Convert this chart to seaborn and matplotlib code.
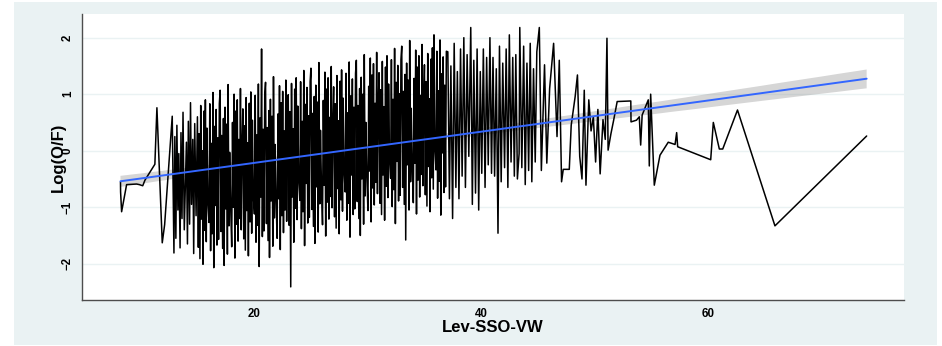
import numpy as np
import pandas as pd
import seaborn as sns
import matplotlib.pyplot as plt
from matplotlib.patches import Rectangle

# ---------------- data ----------------
x_head = [8.24, 8.25, 8.34, 8.78, 9.66, 9.9, 10.2, 10.4, 11.27, 11.45, 11.92, 12.13, 12.8, 12.95]
y_head = [-0.55, -0.73, -1.08, -0.6, -0.59, -0.6, -0.62, -0.52, -0.24, 0.76, -1.63, -1.31, 0.61, -1.81]

x_core = [
    13.03, 13.12, 13.21, 13.30, 13.38, 13.49, 13.57, 13.66, 13.75, 13.86,
    14.05, 14.14, 14.22, 14.33, 14.41, 14.50, 14.61, 14.69, 14.78, 14.90,
    15.02, 15.10, 15.16, 15.24, 15.31, 15.37, 15.45, 15.51, 15.59, 15.66, 15.72, 15.80, 15.86, 15.94,
    16.04, 16.11, 16.18, 16.25, 16.32, 16.39, 16.46, 16.53, 16.60, 16.67, 16.74, 16.81, 16.88, 16.95,
    17.02, 17.10, 17.16, 17.24, 17.31, 17.37, 17.45, 17.51, 17.59, 17.66, 17.72, 17.80, 17.86, 17.94,
    18.04, 18.11, 18.18, 18.25, 18.32, 18.39, 18.46, 18.53, 18.60, 18.67, 18.74, 18.81, 18.88, 18.95,
    19.02, 19.10, 19.16, 19.24, 19.31, 19.37, 19.45, 19.51, 19.59, 19.66, 19.72, 19.80, 19.86, 19.94,
    20.04, 20.11, 20.18, 20.25, 20.32, 20.39, 20.46, 20.53, 20.60, 20.67, 20.74, 20.81, 20.88, 20.95,
    21.02, 21.10, 21.16, 21.24, 21.31, 21.37, 21.45, 21.51, 21.59, 21.66, 21.72, 21.80, 21.86, 21.94,
    22.04, 22.11, 22.18, 22.25, 22.32, 22.39, 22.46, 22.53, 22.60, 22.67, 22.74, 22.81, 22.88, 22.95,
    23.02, 23.10, 23.16, 23.24, 23.31, 23.37, 23.45, 23.51, 23.59, 23.66, 23.72, 23.80, 23.86, 23.94,
    24.04, 24.11, 24.18, 24.25, 24.32, 24.39, 24.46, 24.53, 24.60, 24.67, 24.74, 24.81, 24.88, 24.95,
    25.02, 25.10, 25.16, 25.24, 25.31, 25.37, 25.45, 25.51, 25.59, 25.66, 25.72, 25.80, 25.86, 25.94,
    26.04, 26.11, 26.18, 26.25, 26.32, 26.39, 26.46, 26.53, 26.60, 26.67, 26.74, 26.81, 26.88, 26.95,
    27.02, 27.10, 27.16, 27.24, 27.31, 27.37, 27.45, 27.51, 27.59, 27.66, 27.72, 27.80, 27.86, 27.94,
    28.04, 28.11, 28.18, 28.25, 28.32, 28.39, 28.46, 28.53, 28.60, 28.67, 28.74, 28.81, 28.88, 28.95,
    29.02, 29.10, 29.16, 29.24, 29.31, 29.37, 29.45, 29.51, 29.59, 29.66, 29.72, 29.80, 29.86, 29.94,
    30.04, 30.11, 30.18, 30.25, 30.32, 30.39, 30.46, 30.53, 30.60, 30.67, 30.74, 30.81, 30.88, 30.95,
    31.02, 31.10, 31.16, 31.24, 31.31, 31.37, 31.45, 31.51, 31.59, 31.66, 31.72, 31.80, 31.86, 31.94,
    32.04, 32.11, 32.18, 32.25, 32.32, 32.39, 32.46, 32.53, 32.60, 32.67, 32.74, 32.81, 32.88, 32.95,
    33.02, 33.10, 33.16, 33.24, 33.31, 33.37, 33.45, 33.51, 33.59, 33.66, 33.72, 33.80, 33.86, 33.94,
    34.04, 34.11, 34.18, 34.25, 34.32, 34.39, 34.46, 34.53, 34.60, 34.67, 34.74, 34.81, 34.88, 34.95,
    35.02, 35.10, 35.16, 35.24, 35.31, 35.37, 35.45, 35.51, 35.59, 35.66, 35.72, 35.80, 35.86, 35.94,
    36.04, 36.11, 36.18, 36.25, 36.32, 36.39, 36.46, 36.53, 36.60, 36.67, 36.74, 36.81, 36.88, 36.95,
]
y_core = [
    0.25, -1.55, 0.45, -1.05, -0.05, -1.72, 0.32, -1.2, 0.68, -1.4,
    0.15, -1.65, 0.52, -1.3, 0.85, -0.95, 0.2, -1.82, 0.48, -1.15,
    0.60, -1.71, 0.30, -1.91, 0.80, -1.21, 0.00, -2.01, 0.70, -1.41, 0.90, -1.61, 0.40, -0.91,
    -1.27, 0.83, -1.77, 0.13, -1.47, 1.03, -2.07, 0.43, -0.97, 0.73, -1.67, 0.23, -1.57, 0.83,
    1.07, -1.43, 0.27, -1.73, 0.57, -2.03, 0.77, -1.03, 0.47, -1.83, 1.17, -1.33, -0.03, -0.93,
    -1.70, 0.50, -1.00, 1.00, -1.90, 0.70, -1.30, 0.90, -1.60, 0.20, -1.20, 1.10, -1.40, 0.10,
    0.74, -1.56, 0.44, -1.76, 0.94, -1.06, 0.14, -1.86, 0.84, -1.26, 1.04, -1.46, 0.54, -0.76,
    -1.12, 0.98, -1.62, 0.28, -1.32, 1.18, -2.05, 0.58, -0.82, 1.80, -1.52, 0.38, -1.42, 0.98,
    1.21, -1.29, 0.41, -1.59, 0.71, -1.89, 0.91, -0.89, 0.61, -1.69, 1.31, -1.19, 0.11, -0.79,
    -1.55, 0.65, -0.85, 1.15, -1.75, 0.85, -1.15, 1.05, -1.45, 0.35, -1.05, 1.25, -1.25, 0.25,
    0.99, -1.32, 0.69, -2.41, 1.19, -0.82, 0.39, -1.62, 1.09, -1.02, 1.29, -1.22, 0.79, -0.52,
    -0.88, 1.22, -1.38, 0.52, -1.08, 1.42, -1.68, 0.82, -0.58, 1.12, -1.28, 0.62, -1.18, 1.22,
    1.46, -1.04, 0.66, -1.34, 0.96, -1.64, 1.16, -0.64, 0.86, -1.44, 1.56, -0.94, 0.36, -0.54,
    -1.31, 0.89, -0.61, 1.39, -1.51, 1.09, -0.91, 1.29, -1.21, 0.59, -0.81, 1.49, -1.01, 0.49,
    1.13, -1.17, 0.83, -1.37, 1.33, -0.67, 0.53, -1.47, 1.23, -0.87, 1.43, -1.07, 0.93, -0.37,
    -0.73, 1.37, -1.23, 0.67, -0.93, 1.57, -1.53, 0.97, -0.43, 1.27, -1.13, 0.77, -1.03, 1.37,
    1.60, -0.90, 0.80, -1.20, 1.10, -1.50, 1.30, -0.50, 1.00, -1.30, 1.70, -0.80, 0.50, -0.40,
    -1.06, 1.14, -0.36, 1.64, -1.26, 1.34, -0.66, 1.54, -0.96, 0.84, -0.56, 1.74, -0.76, 0.74,
    1.38, -0.93, 1.08, -1.13, 1.58, -0.43, 0.78, -1.23, 1.48, -0.63, 1.68, -0.83, 1.18, -0.13,
    -0.49, 1.61, -0.99, 0.91, -0.69, 1.81, -1.29, 1.21, -0.19, 1.51, -0.89, 1.01, -0.79, 1.61,
    1.85, -0.65, 1.05, -0.95, 1.35, -1.58, 1.55, -0.25, 1.25, -1.05, 1.95, -0.55, 0.75, -0.15,
    -0.92, 1.28, -0.22, 1.78, -1.12, 1.48, -0.52, 1.68, -0.82, 0.98, -0.42, 1.88, -0.62, 0.88,
    1.52, -0.78, 1.22, -0.98, 1.72, -0.28, 0.92, -1.08, 1.62, -0.48, 1.82, -0.68, 2.05, 0.02,
    -0.34, 1.76, -0.84, 1.06, -0.54, 1.96, -1.14, 1.36, -0.04, 1.66, -0.74, 1.16, -0.64, 1.76,
]

x_mid = [
    37.08, 37.22, 37.35, 37.50, 37.64, 37.79, 37.92,
    38.06, 38.20, 38.34, 38.49, 38.63, 38.78, 38.93,
    39.10, 39.24, 39.37, 39.52, 39.66, 39.80, 39.94,
    40.07, 40.21, 40.36, 40.50, 40.64, 40.79, 40.93,
    41.06, 41.20, 41.35, 41.50, 41.63, 41.78, 41.92,
    42.08, 42.22, 42.37, 42.50, 42.65, 42.80, 42.94,
    43.07, 43.21, 43.36, 43.42, 43.60, 43.76, 43.90,
    44.05, 44.20, 44.34, 44.48, 44.63, 44.78, 44.92,
]
y_mid = [
    1.75, -0.85, 1.5, -1.2, 1.9, -0.65, 1.4,
    -0.85, 1.8, -0.45, 2.0, -0.65, 1.7, -0.1,
    2.18, -0.95, 1.6, -0.75, 1.8, -1.05, 1.4,
    -0.4, 1.8, -0.65, 1.65, -0.25, 2.0, -0.4,
    1.65, -0.45, 1.45, -1.46, 1.85, -0.55, 1.55,
    -0.3, 1.8, -0.65, 2.05, -0.2, 1.65, -0.45,
    1.7, -0.5, -0.05, 2.18, -0.3, 1.85, -0.6,
    1.55, -0.35, 1.9, -0.55, 1.45, -0.2, 1.75,
]

x_sparse = [45.14, 45.32, 45.6, 45.8, 46.05, 46.4, 46.7, 46.9, 47.1, 47.25, 47.78, 47.95,
            48.3, 48.5, 48.7, 48.9, 49.1, 49.25, 49.5, 49.7, 49.9, 50.1, 50.3, 50.5,
            50.75, 50.95, 51.1, 51.2, 51.45, 51.7, 52.0]
y_sparse = [2.18, -0.35, 1.52, -0.22, 1.1, 1.9, 0.25, 1.6, -0.55, -0.33, -0.33, 0.45,
            0.96, 1.34, -0.1, -0.5, 1.07, -0.61, 0.9, 0.35, 0.6, -0.2, 0.73, -0.41,
            0.55, 0.2, 1.99, 0.01, 0.3, 0.55, 0.87]

x_tail = [53.2, 53.22, 53.7, 53.95, 54.07, 54.2, 54.74, 54.83, 54.95, 55.27, 55.77,
          56.5, 57.1, 57.24, 57.33, 60.24, 60.47, 61.0, 61.3, 62.6, 65.9, 73.98]
y_tail = [0.88, 0.51, 0.54, 0.6, 0.1, 0.63, 0.9, -0.27, 1.0, -0.61, -0.08,
          0.15, 0.11, 0.32, 0.07, -0.16, 0.5, 0.03, 0.03, 0.72, -1.33, 0.26]

x_ticks = [20, 40, 60]
y_ticks = [-2, -1, 0, 1, 2]
x_title = "Lev-SSO-VW"
y_title = "Log(O/F)"

x_all = x_head + x_core + x_mid + x_sparse + x_tail
y_all = y_head + y_core + y_mid + y_sparse + y_tail
assert len(x_all) == len(y_all)
df = pd.DataFrame({"lev": x_all, "logof": y_all})

# ---------------- style ----------------
sns.set_theme(style="white")
plt.rcParams["font.family"] = ["Liberation Sans", "DejaVu Sans"]

W, H = 942, 346
fig = plt.figure(figsize=(W / 100, H / 100), dpi=100)
fig.patch.set_facecolor("white")
fig.patches.append(Rectangle((14 / W, 1 / H), 923 / W, 343 / H, transform=fig.transFigure,
                             facecolor="#EAF2F3", edgecolor="none", zorder=-10))
ax = fig.add_axes([82 / W, 46 / H, 822 / W, 286 / H])
ax.set_facecolor("white")

sns.lineplot(data=df, x="lev", y="logof", estimator=None, sort=True,
             color="black", lw=1.1, ax=ax)
sns.regplot(data=df, x="lev", y="logof", scatter=False, ci=65, seed=1,
            color="#3366FF", line_kws={"lw": 1.4}, truncate=True, ax=ax)
for coll in ax.collections:
    coll.set_facecolor("#999999")
    coll.set_alpha(0.4)
    coll.set_edgecolor("none")

ax.set_xlim(4.85, 77.27)
ax.set_ylim(-2.642, 2.419)
ax.set_xticks(x_ticks)
ax.set_yticks(y_ticks)
ax.yaxis.grid(True, color="#EAF2F3", lw=1)
ax.xaxis.grid(False)
ax.set_axisbelow(True)

for s in ["top", "right"]:
    ax.spines[s].set_visible(False)
for s in ["left", "bottom"]:
    ax.spines[s].set_color("#4d4d4d")
    ax.spines[s].set_linewidth(1.0)

ax.tick_params(axis="both", direction="out", length=3, width=0.8, color="#4d4d4d",
               labelsize=8.3, labelcolor="black")
ax.tick_params(axis="x", pad=2.7)
ax.tick_params(axis="y", pad=2.9)
for lbl in ax.get_xticklabels() + ax.get_yticklabels():
    lbl.set_fontweight("bold")
for lbl in ax.get_yticklabels():
    lbl.set_rotation(90)
    lbl.set_va("center")

ax.set_xlabel(x_title, fontsize=12, fontweight="bold", color="black")
ax.set_ylabel(y_title, fontsize=12, fontweight="bold", color="black")
ax.xaxis.label.set_va("center")
ax.xaxis.set_label_coords(0.5, -(327 - 300) / 286)
ax.yaxis.label.set_va("center")
ax.yaxis.set_label_coords((58 - 82) / 822, 0.5)

fig.savefig("out.png", dpi=100, facecolor=fig.get_facecolor())
